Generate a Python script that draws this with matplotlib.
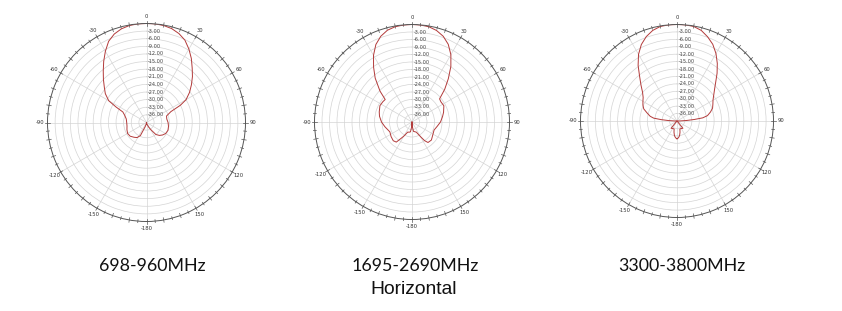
import numpy as np
import matplotlib.pyplot as plt

# horizontal radiation patterns, angle in degrees (0 = top, clockwise), gain in dB
ang_698 = [-180, -170, -162, -155, -148, -140, -130, -120, -110, -100, -90, -80, -72, -66, -63,
           -60, -55, -50, -45, -40, -35, -30, -25, -20, -15, -10, -5, 0,
           5, 10, 15, 20, 25, 30, 35, 40, 45, 50, 55, 60, 63, 66, 72, 80, 90, 100, 110, 120,
           128, 135, 142, 148, 155, 165, 180]
db_698 = [-39.0, -38.3, -37.2, -33.3, -32.0, -31.4, -30.6, -30.4, -30.8, -31.2, -31.2, -30.9, -30.0, -28.8, -25.5,
          -21.8, -19.2, -17.3, -15.0, -12.5, -9.6, -6.6, -3.7, -1.9, -0.8, -0.2, 0.0, 0.0,
          0.0, -0.2, -0.7, -1.7, -3.2, -5.6, -8.2, -11.0, -13.4, -15.9, -18.3, -21.0, -24.0, -28.5, -30.7, -30.9,
          -30.5, -30.2, -30.0, -30.3, -31.0, -31.8, -33.0, -35.5, -37.0, -38.3, -39.0]

ang_1695 = [-180, -176, -171, -165, -157, -150, -146, -142, -135, -125, -114, -100, -90, -80, -73, -63,
            -55, -50, -46, -40, -35, -30, -25, -20, -15, -10, -5, 0,
            5, 10, 15, 20, 25, 30, 35, 40, 45, 50, 55, 63, 73, 80, 90, 100, 110, 120,
            133, 142, 146, 150, 157, 165, 171, 176, 180]
db_1695 = [-39.0, -37.0, -35.0, -34.8, -34.6, -32.5, -31.0, -28.8, -28.4, -28.8, -29.3, -28.0, -26.8, -25.8, -25.3, -24.6,
           -24.8, -25.0, -21.2, -16.1, -12.2, -8.2, -4.8, -2.5, -1.0, -0.3, -0.05, 0.0,
           -0.05, -0.3, -1.1, -2.5, -4.7, -7.9, -11.9, -16.4, -20.5, -24.6, -24.9, -24.7, -25.8, -26.6, -27.6,
           -28.8, -29.6, -29.3, -28.4, -28.6, -30.0, -32.3, -34.6, -35.0, -35.2, -37.2, -39.0]

ang_3300 = [-180, -175, -170, -165, -160, -150, -141, -138, -125, -100, -92, -89, -87, -85, -83, -80,
            -75, -70, -65, -60, -55, -50, -45, -40, -35, -30, -25, -20, -15, -10, -5, 0,
            5, 10, 15, 20, 25, 30, 35, 40, 45, 50, 55, 60, 65, 70, 75, 80, 83, 85, 87, 89, 92,
            100, 125, 138, 141, 150, 160, 165, 170, 175, 180]
db_3300 = [-31.8, -32.2, -33.0, -34.3, -35.6, -35.5, -35.2, -38.5, -39.0, -39.0, -39.0, -38.0, -35.5, -32.5, -29.5, -28.0,
           -26.5, -24.7, -23.8, -23.1, -22.3, -20.8, -18.4, -15.5, -11.6, -7.9, -4.9, -2.7, -1.1, -0.2, 0.0, 0.0,
           0.0, -0.2, -1.1, -2.8, -4.8, -7.5, -10.6, -13.8, -16.9, -19.2, -20.9, -22.2, -23.0, -23.7, -25.0,
           -26.5, -28.5, -32.0, -35.2, -37.8, -39.0,
           -39.0, -39.0, -38.5, -35.2, -35.5, -35.6, -34.3, -33.0, -32.2, -31.8]

bands = ['698-960MHz', '1695-2690MHz', '3300-3800MHz']
ring_db = [-3, -6, -9, -12, -15, -18, -21, -24, -27, -30, -33, -36]
angle_labels = [0, 30, 60, 90, 120, 150, -180, -150, -120, -90, -60, -30]
floor = 39.0

fig = plt.figure(figsize=(8.42, 3.11), dpi=100)

# axes boxes in pixels: centre x, centre y, radius
boxes = [(146.5, 122.5, 99), (412, 122, 97.5), (677, 121, 96.5)]
patterns = [(ang_698, db_698), (ang_1695, db_1695), (ang_3300, db_3300)]

for (cx, cy, r), (ang, db) in zip(boxes, patterns):
    ax = fig.add_axes([(cx - r) / 842, (311 - cy - r) / 311, 2 * r / 842, 2 * r / 311],
                      projection='polar')
    ax.set_theta_zero_location('N')
    ax.set_theta_direction(-1)
    ax.set_ylim(0, floor)
    ax.set_rgrids([d + floor for d in ring_db], labels=[])
    ax.set_thetagrids(range(0, 360, 30), labels=[])
    ax.grid(True, color='#d4d4d4', linewidth=0.5)
    ax.spines['polar'].set_color('#555555')
    ax.spines['polar'].set_linewidth(0.7)
    ax.tick_params(length=0)

    # small ticks round the rim
    for a in range(0, 360, 5):
        t = np.deg2rad(a)
        ext = 0.9 if a % 10 == 0 else 0.6
        ax.plot([t, t], [floor - ext, floor + ext], color='#555555', lw=0.5, clip_on=False)

    for d in ring_db:
        ax.annotate('%.2f' % d, xy=(0, d + floor), xytext=(1.2, 0), textcoords='offset points',
                    ha='left', va='center', fontsize=3.6, color='#444444')

    for a in angle_labels:
        ax.text(np.deg2rad(a), floor * 1.075, str(a), ha='center', va='center',
                fontsize=3.8, color='#333333', clip_on=False)

    ax.plot(np.deg2rad(ang), np.array(db) + floor, color='#b23a3a', lw=0.7)

label_x = [152, 415, 682]
for x, b in zip(label_x, bands):
    fig.text(x / 842, 1 - 270.7 / 311, b, ha='center', va='baseline',
             fontsize=12.8, family=['Lato', 'DejaVu Sans'], color='#111111')

fig.text(413.5 / 842, 1 - 294.5 / 311, 'Horizontal', ha='center', va='baseline',
         fontsize=13.9, family=['Liberation Sans', 'DejaVu Sans'], color='#111111')

fig.savefig('out.png', dpi=100, facecolor='white')
